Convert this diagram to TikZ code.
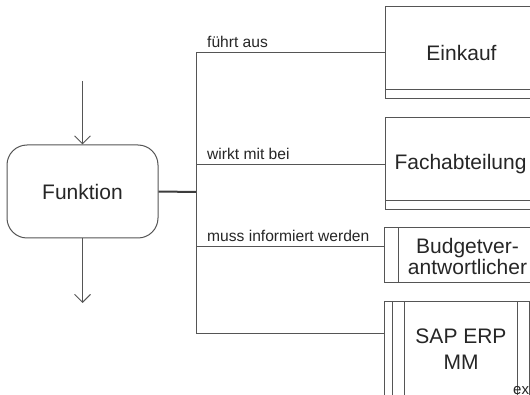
\documentclass[tikz,border=0pt]{standalone}
\usepackage{fontspec}
\setmainfont{Liberation Sans}
\usetikzlibrary{arrows.meta,calc}
\definecolor{linec}{HTML}{555555}
\definecolor{textc}{HTML}{262626}
\begin{document}
\begin{tikzpicture}[x=1pt,y=-1pt,
  every node/.style={text=textc},
  bigtext/.style={font=\fontsize{21}{24}\selectfont},
  lbl/.style={font=\fontsize{15.6}{18}\selectfont,anchor=base west,inner sep=0pt},
  conn/.style={draw=linec,line width=1pt},
  arr/.style={draw=linec,line width=0.9pt,-{Straight Barb[length=8pt,width=16pt]}},
  funcbox/.style={draw=linec,line width=1pt,rounded corners=20pt,minimum width=151pt,minimum height=93pt,bigtext},
  orgbox/.style={draw=linec,line width=1pt,minimum width=175pt,minimum height=92pt,inner sep=0pt,
    path picture={\draw[linec,line width=1pt] ([yshift=9pt]path picture bounding box.south west) -- ([yshift=9pt]path picture bounding box.south east);}},
  rolebox/.style={draw=linec,line width=1pt,minimum width=175pt,minimum height=55pt,inner sep=0pt,
    path picture={\draw[linec,line width=1pt] ([xshift=14pt]path picture bounding box.south west) -- ([xshift=14pt]path picture bounding box.north west);}},
  sysbox/.style={draw=linec,line width=1pt,minimum width=153pt,minimum height=94pt,inner sep=0pt,
    path picture={\draw[linec,line width=1pt]
      ([xshift=8pt]path picture bounding box.south west) -- ([xshift=8pt]path picture bounding box.north west)
      ([xshift=20pt]path picture bounding box.south west) -- ([xshift=20pt]path picture bounding box.north west)
      ([xshift=-8pt]path picture bounding box.south east) -- ([xshift=-8pt]path picture bounding box.north east)
      ([xshift=-20pt]path picture bounding box.south east) -- ([xshift=-20pt]path picture bounding box.north east);}}
]
\useasboundingbox (0,0) rectangle (530,395);
\clip (0,0) rectangle (530,395);
\fill[white] (0,0) rectangle (530,395);

% function
\node[funcbox] (f) at (82.5,191.5) {Funktion};
\coordinate (in) at (82.5,81);
\coordinate (out) at (82.5,303);
\draw[arr] (in) -- (f.north);
\draw[arr] (f.south) -- (out);

% right boxes
\node[orgbox] (e) at (472.5,53) {};
\node[bigtext,inner sep=0pt] (et) at (461.5,53) {Einkauf};
\node[orgbox] (fa) at (472.5,164) {};
\node[bigtext,inner sep=0pt] (fat) at (460.5,164) {Fachabteilung};
\node[rolebox] (b) at (471.5,255.5) {};
\node[align=center,inner sep=0pt,font=\fontsize{21}{21}\selectfont] (bt) at (467.5,256.5) {Budgetver-\\antwortlicher};
\node[sysbox] (s) at (460.5,349) {};
\node[align=center,inner sep=0pt,font=\fontsize{21}{26}\selectfont] (st) at (461,349) {SAP ERP\\MM};
\node[anchor=base west,inner sep=0pt,font=\fontsize{15}{18}\selectfont] (ex) at (513,394) {ex};

% connectors
\coordinate (hub) at (196,192);
\coordinate (t1) at (196,53);
\coordinate (t4) at (196,333);
\draw[draw=textc!90,line width=2pt] (f.east) -- (hub);
\draw[conn] (e.west) -- (t1) -- (t4) -- ([yshift=16pt]s.west);
\draw[conn] ([yshift=-1pt]fa.west) -- ([yshift=-1pt]fa.west -| hub);
\draw[conn] ([yshift=8.5pt]b.west) -- ([yshift=8.5pt]b.west -| hub);

% labels
\node[lbl] (l1) at (207,48) {führt aus};
\node[lbl] (l2) at (207,159.5) {wirkt mit bei};
\node[lbl] (l3) at (207,242) {muss informiert werden};
\end{tikzpicture}
\end{document}
